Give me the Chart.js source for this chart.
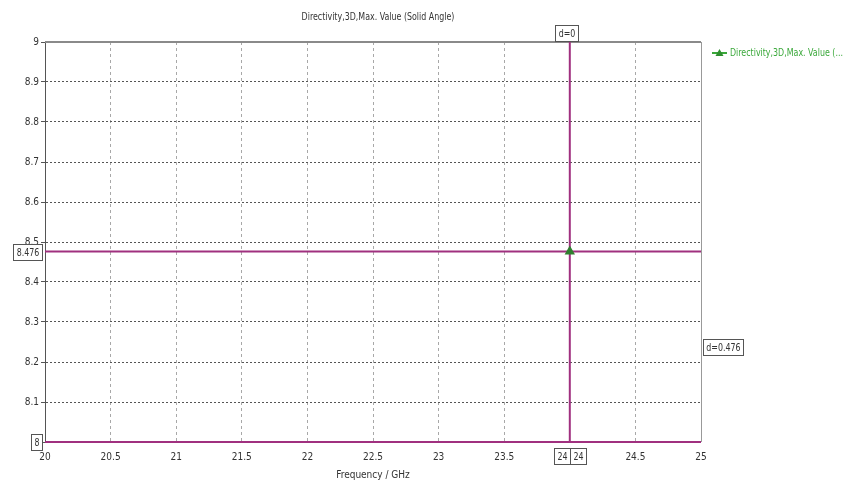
<!DOCTYPE html>
<html>
<head>
<meta charset="utf-8">
<script src="https://cdn.jsdelivr.net/npm/chart.js@4"></script>
<style>
html, body { margin: 0; padding: 0; background: #fff; }
</style>
</head>
<body>
<canvas id="dirGraph" width="850" height="484"></canvas>
<script>
const freqX = [24];
const directivityY = [8.476];
const xTicks = [20, 20.5, 21, 21.5, 22, 22.5, 23, 23.5, 24, 24.5, 25];
const yTicks = [8, 8.1, 8.2, 8.3, 8.4, 8.5, 8.6, 8.7, 8.8, 8.9, 9];
const markerX = [24];
const markerY = [8, 8.476];

const seriesName = "Directivity,3D,Max. Value (Solid Angle)";
const legendText = "Directivity,3D,Max. Value (...";
const titleText = "Directivity,3D,Max. Value (Solid Angle)";

const FONT = "'DejaVu Sans Condensed', 'Liberation Sans Narrow', sans-serif";
const FSIZE = 10;
const SQUEEZE = 0.88;   // narrow the hand-drawn text a bit
const MARK = "#a0307f";
const GREEN = "#3aa83a";

Chart.defaults.font.family = FONT;
Chart.defaults.font.size = FSIZE;
Chart.defaults.color = "#333";

function fmt(v) {
    return String(Math.round(v * 1000) / 1000);
}

function narrowText(ctx, text, x, y, align) {
    ctx.save();
    ctx.font = FSIZE + "px " + FONT;
    ctx.textAlign = align;
    ctx.textBaseline = "middle";
    ctx.translate(x, y);
    ctx.scale(SQUEEZE, 1);
    ctx.fillText(text, 0, 0);
    ctx.restore();
}

function labelBox(ctx, text, x, y, anchor) {
    ctx.font = FSIZE + "px " + FONT;
    const w = Math.round(ctx.measureText(text).width * SQUEEZE + 6);
    const h = 16;
    let left = x - w / 2;
    if (anchor === "right") left = x - w;
    if (anchor === "left") left = x;
    left = Math.round(left);
    const top = Math.round(y - h / 2);
    ctx.fillStyle = "#fff";
    ctx.fillRect(left, top, w, h);
    ctx.strokeStyle = "#555";
    ctx.lineWidth = 1;
    ctx.strokeRect(left + 0.5, top + 0.5, w, h);
    ctx.fillStyle = "#333";
    narrowText(ctx, text, left + w / 2 + 0.5, top + h / 2 + 1, "center");
}

// frame, marker lines, marker labels, legend and title
const markerPlugin = {
    id: "markers",
    beforeDatasetsDraw(chart) {
        const {ctx, chartArea: a, scales: {x, y}} = chart;
        ctx.save();
        // top and right frame
        ctx.strokeStyle = "#8a8a8a";
        ctx.lineWidth = 2;
        ctx.beginPath();
        ctx.moveTo(a.left, a.top);
        ctx.lineTo(a.right, a.top);
        ctx.stroke();
        ctx.lineWidth = 1;
        ctx.strokeStyle = "#999";
        ctx.beginPath();
        ctx.moveTo(a.right + 0.5, a.top);
        ctx.lineTo(a.right + 0.5, a.bottom);
        ctx.stroke();

        ctx.strokeStyle = MARK;
        ctx.lineWidth = 2;
        markerY.forEach(v => {
            const py = y.getPixelForValue(v);
            ctx.beginPath();
            ctx.moveTo(a.left, py);
            ctx.lineTo(a.right, py);
            ctx.stroke();
        });
        markerX.forEach(v => {
            const px = x.getPixelForValue(v);
            ctx.beginPath();
            ctx.moveTo(px, a.top);
            ctx.lineTo(px, a.bottom);
            ctx.stroke();
        });
        ctx.restore();
    },
    afterDraw(chart) {
        const {ctx, chartArea: a, scales: {x, y}} = chart;
        ctx.save();

        markerY.forEach(v => labelBox(ctx, fmt(v), a.left - 3, y.getPixelForValue(v), "right"));
        markerX.forEach(v => {
            const px = x.getPixelForValue(v);
            labelBox(ctx, fmt(v), px, a.bottom + 14, "right");
            labelBox(ctx, fmt(v), px, a.bottom + 14, "left");
        });

        const dY = Math.max(...markerY) - Math.min(...markerY);
        const midY = (Math.max(...markerY) + Math.min(...markerY)) / 2;
        labelBox(ctx, "d=" + fmt(dY), a.right + 2, y.getPixelForValue(midY), "left");

        const dX = Math.max(...markerX) - Math.min(...markerX);
        const midX = (Math.max(...markerX) + Math.min(...markerX)) / 2;
        labelBox(ctx, "d=" + fmt(dX), x.getPixelForValue(midX) - 3, a.top - 9, "center");

        // title
        ctx.fillStyle = "#333";
        narrowText(ctx, titleText, (a.left + a.right) / 2 + 5, 17, "center");

        // legend
        const ly = a.top + 11;
        ctx.strokeStyle = GREEN;
        ctx.lineWidth = 2;
        ctx.beginPath();
        ctx.moveTo(a.right + 11, ly);
        ctx.lineTo(a.right + 26, ly);
        ctx.stroke();
        ctx.fillStyle = "#2f8f2f";
        ctx.beginPath();
        ctx.moveTo(a.right + 18.5, ly - 4);
        ctx.lineTo(a.right + 22.5, ly + 3);
        ctx.lineTo(a.right + 14.5, ly + 3);
        ctx.closePath();
        ctx.fill();
        ctx.fillStyle = GREEN;
        narrowText(ctx, legendText, a.right + 29, ly, "left");
        ctx.restore();
    }
};

const ctx = document.getElementById("dirGraph");

new Chart(ctx, {
    type: "line",
    data: {
        datasets: [{
            label: seriesName,
            data: freqX.map((f, i) => ({x: f, y: directivityY[i]})),
            borderColor: GREEN,
            backgroundColor: "#2f7f2f",
            pointBackgroundColor: "#2f7f2f",
            pointBorderColor: "#2f7f2f",
            pointStyle: "triangle",
            pointRadius: 4,
            borderWidth: 2
        }]
    },
    options: {
        responsive: false,
        animation: false,
        layout: {padding: {top: 42, right: 149, left: 0, bottom: 0}},
        plugins: {
            legend: {display: false},
            title: {display: false},
            tooltip: {enabled: false}
        },
        scales: {
            x: {
                type: "linear",
                min: 20,
                max: 25,
                afterBuildTicks: s => { s.ticks = xTicks.map(v => ({value: v})); },
                afterFit: s => { s.height = 42; },
                grid: {color: "#a8a8a8", drawTicks: false},
                border: {display: false, dash: [3, 3]},
                ticks: {padding: 9, color: "#333", maxRotation: 0, autoSkip: false, callback: v => fmt(v)},
                title: {display: true, text: "Frequency / GHz", color: "#333", padding: {top: 0, bottom: 3}}
            },
            y: {
                type: "linear",
                min: 8,
                max: 9,
                afterBuildTicks: s => { s.ticks = yTicks.map(v => ({value: v})); },
                afterFit: s => { s.width = 45; },
                grid: {color: "#555", tickLength: 4},
                border: {display: true, color: "#555", width: 1, dash: [2, 2]},
                ticks: {padding: 2, color: "#333", autoSkip: false, callback: v => fmt(v)}
            }
        }
    },
    plugins: [markerPlugin]
});
</script>
</body>
</html>
